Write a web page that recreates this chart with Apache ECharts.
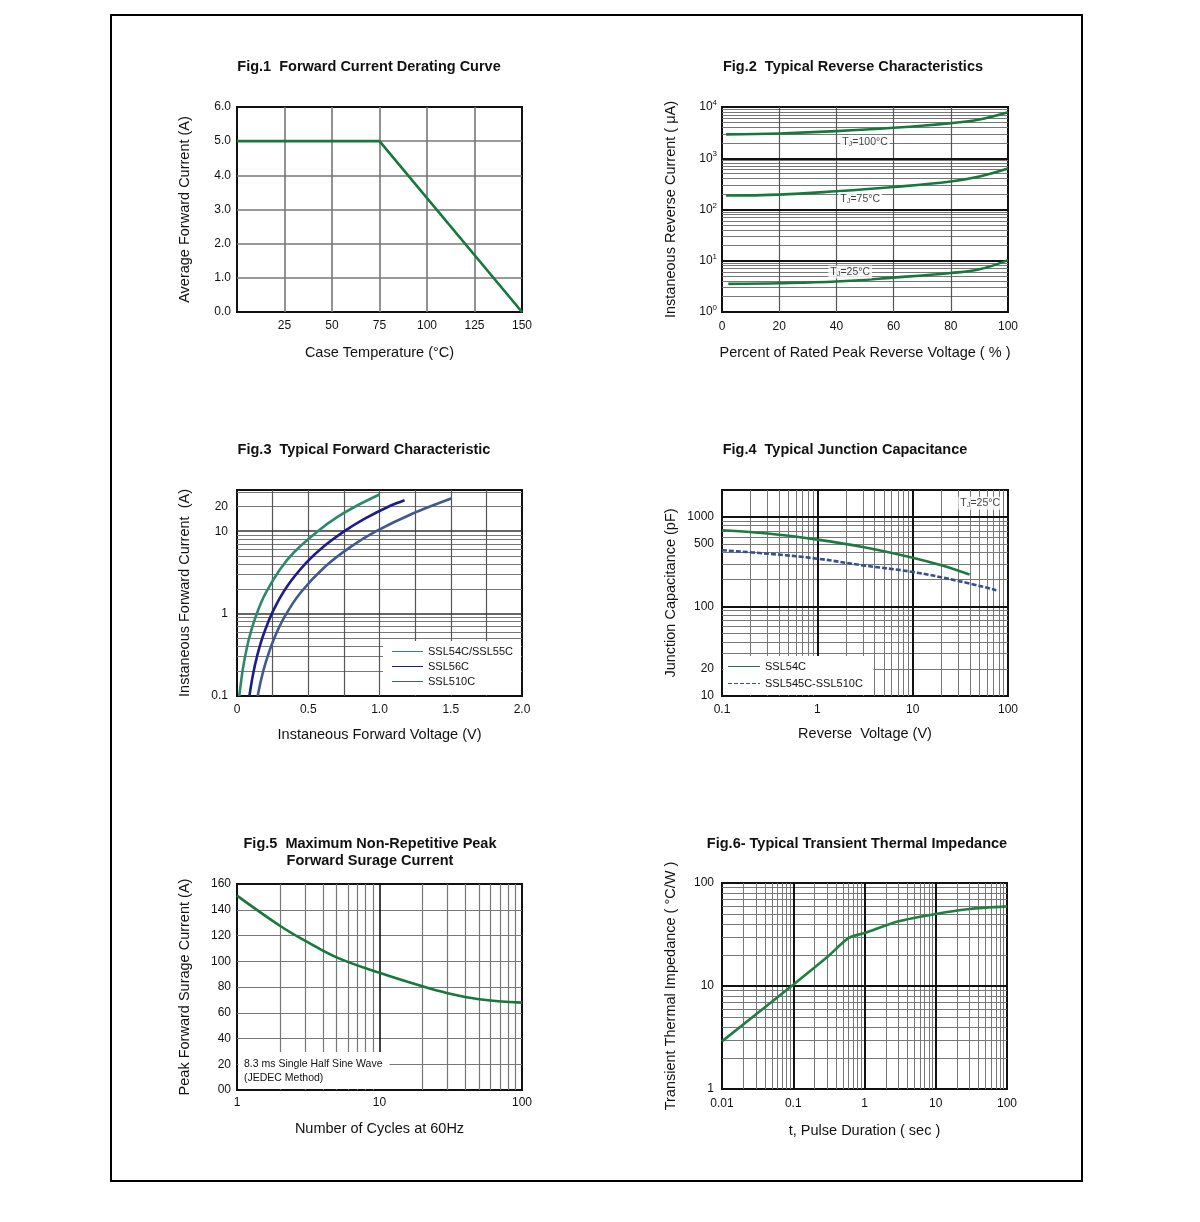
<!DOCTYPE html>
<html><head><meta charset="utf-8">
<script src="https://cdn.jsdelivr.net/npm/echarts/dist/echarts.min.js"></script>
<style>html,body{margin:0;padding:0;background:#fff}#c{width:1200px;height:1222px}</style>
</head><body><div id="c"></div>
<script>
// ---------------- DATA ----------------
// Fig.1 Forward Current Derating Curve
const fig1Temp = [0, 75, 150];
const fig1Current = [5.0, 5.0, 0.0];

// Fig.2 Typical Reverse Characteristics (uA)
const fig2Pct = [1.4, 20, 40, 60, 80, 90, 100];
const fig2I100 = [2920, 3050, 3380, 3930, 4830, 5690, 7890];
const fig2I75 = [187, 195, 227, 275, 353, 441, 631];
const fig2Pct25 = [2.2, 20, 40, 60, 80, 90, 100];
const fig2I25 = [3.54, 3.64, 3.93, 4.69, 5.77, 6.8, 10.3];
const fig2YTicks = [1, 10, 100, 1000, 10000];
const fig2Notes = [[50, 2075, '100°C'], [48.3, 160, '75°C'], [44.8, 6.0, '25°C']];

// Fig.3 Typical Forward Characteristic
const fig3V54 = [0.016, 0.04, 0.07, 0.10, 0.145, 0.20, 0.30, 0.40, 0.567, 0.70, 0.85, 1.0];
const fig3I54 = [0.1, 0.207, 0.39, 0.625, 1.07, 1.76, 3.41, 5.55, 10, 14.7, 20.8, 27.9];
const fig3V56 = [0.087, 0.11, 0.14, 0.18, 0.25, 0.35, 0.485, 0.60, 0.754, 0.90, 1.08, 1.176];
const fig3I56 = [0.1, 0.174, 0.30, 0.52, 1.05, 2.12, 4.12, 6.34, 10, 14.3, 20.5, 23.8];
const fig3V510 = [0.145, 0.17, 0.20, 0.25, 0.333, 0.45, 0.625, 0.80, 0.977, 1.234, 1.503];
const fig3I510 = [0.1, 0.16, 0.25, 0.45, 0.91, 1.83, 3.8, 6.5, 10, 16.4, 24.9];
const fig3YTicks = [0.1, 1, 10, 20];
const fig3Names = ['SSL54C/SSL55C', 'SSL56C', 'SSL510C'];

// Fig.4 Typical Junction Capacitance
const fig4V54 = [0.1, 0.3, 1, 3, 10, 20, 39.5];
const fig4C54 = [710, 652, 558, 462, 351, 288, 227];
const fig4V510 = [0.1, 0.3, 1, 3, 10, 30, 75.4];
const fig4C510 = [425, 389, 342, 288, 243, 193, 152];
const fig4XTicks = [0.1, 1, 10, 100];
const fig4YTicks = [10, 20, 100, 500, 1000];
const fig4Names = ['SSL54C', 'SSL545C-SSL510C'];
const fig4Note = [[51, 1422, '25°C']];

// Fig.5 Maximum Non-Repetitive Peak Forward Surage Current
const fig5Cycles = [1, 2, 3, 5, 10, 20, 30, 50, 100];
const fig5Amps = [151, 127.6, 116, 103, 91, 80.5, 75.2, 70.5, 67.9];
const fig5XTicks = [1, 10, 100];

// Fig.6 Typical Transient Thermal Impedance
const fig6Time = [0.01, 0.1, 0.3, 0.6, 1, 3, 10, 30, 100];
const fig6Z = [2.9, 10.3, 19.1, 29.3, 32.7, 42.5, 50.1, 56, 59.3];
const fig6XTicks = [0.01, 0.1, 1, 10, 100];
const fig6YTicks = [1, 10, 100];

// grid line values
const fig1XGrid = [25, 50, 75, 100, 125];
const fig1YGrid = [1, 2, 3, 4, 5];
const fig2XGrid = [20, 40, 60, 80];
const fig2YMajor = [10, 100, 1000];
const fig2YMinor = [2,3,4,5,6,7,8,9, 20,30,40,50,60,70,80,90, 200,300,400,500,600,700,800,900, 2000,3000,4000,5000,6000,7000,8000,9000];
const fig3XGrid = [0.25, 0.5, 0.75, 1.0, 1.25, 1.5, 1.75];
const fig3YMajor = [1, 10];
const fig3YMinor = [0.2,0.3,0.4,0.5,0.6,0.7,0.8,0.9, 2,3,4,5,6,7,8,9, 20,30];
const fig4XMajor = [1, 10];
const fig4XMinor = [0.2,0.3,0.4,0.5,0.6,0.7,0.8,0.9, 2,3,4,5,6,7,8,9, 20,30,40,50,60,70,80,90];
const fig4YMajor = [100, 1000];
const fig4YMinor = [20,30,40,50,60,70,80,90, 200,300,400,500,600,700,800,900];
const fig5XMajor = [10];
const fig5XMinor = [2,3,4,5,6,7,8,9, 20,30,40,50,60,70,80,90];
const fig5YGrid = [20, 40, 60, 80, 100, 120, 140];
const fig6XMajor = [0.1, 1, 10];
const fig6XMinor = [0.02,0.03,0.04,0.05,0.06,0.07,0.08,0.09, 0.2,0.3,0.4,0.5,0.6,0.7,0.8,0.9, 2,3,4,5,6,7,8,9, 20,30,40,50,60,70,80,90];
const fig6YMajor = [10];
const fig6YMinor = [2,3,4,5,6,7,8,9, 20,30,40,50,60,70,80,90];

// ---------------- HELPERS ----------------
const FONT = '"Liberation Sans", Arial, Helvetica, sans-serif';
const MAJOR = '#111';
const MINOR = '#777';
const zip = (a, b) => a.map((v, i) => [v, b[i]]);
const ml = (key, vals, color, width) => vals.map(v => ({ [key]: v, lineStyle: { color, width, type: 'solid' } }));

function gridSeries(i, parts) {
  let data = [];
  parts.forEach(p => { data = data.concat(ml(p[0], p[1], p[2], p[3])); });
  return {
    type: 'line', xAxisIndex: i, yAxisIndex: i, data: [], z: 1, silent: true,
    markLine: { z: 1, silent: true, symbol: ['none', 'none'], animation: false, label: { show: false },
      emphasis: { disabled: true }, data }
  };
}
function curve(i, name, data, color, extra) {
  return Object.assign({
    type: 'line', name, xAxisIndex: i, yAxisIndex: i, data, symbol: 'none', z: 4,
    lineStyle: { color, width: 2.6 }, itemStyle: { color }, animation: false
  }, extra || {});
}
const labelStyle = { fontSize: 12, color: '#111', fontFamily: FONT };
function axis(i, type, min, max, name, gap, lab, extra) {
  const o = {
    gridIndex: i, type, min, max, name, nameGap: gap, nameLocation: 'middle',
    nameTextStyle: { fontSize: 14.5, color: '#111', fontFamily: FONT },
    axisLine: { show: false }, axisTick: { show: false },
    splitLine: { show: false }, minorSplitLine: { show: false },
    axisLabel: Object.assign({}, labelStyle, lab || {})
  };
  if (type === 'log') o.logBase = 10;
  return Object.assign(o, extra || {});
}
function noteSeries(i, notes, size) {
  return {
    type: 'scatter', xAxisIndex: i, yAxisIndex: i, z: 6, symbolSize: 1, silent: true, animation: false,
    itemStyle: { color: 'rgba(0,0,0,0)' },
    data: notes.map(n => ({ value: [n[0], n[1]], label: { formatter: 'T{s|J}=' + n[2] } })),
    label: { show: true, position: 'inside', backgroundColor: '#fff', padding: [1, 2, 1, 2],
      fontSize: size, color: '#111', fontFamily: FONT,
      rich: { s: { fontSize: size - 3, verticalAlign: 'bottom', fontFamily: FONT, color: '#111' } } }
  };
}
const logFmt = v => String(v);

const gridBox = (l, t, w, h) => ({ left: l, top: t, width: w, height: h, show: true, borderColor: '#111', borderWidth: 2, backgroundColor: '#fff', containLabel: false });

const grids = [
  gridBox(237, 107, 285, 205),
  gridBox(722, 107, 286, 205),
  gridBox(237, 490, 285, 206),
  gridBox(722, 490, 286, 206),
  gridBox(237, 884, 285, 206),
  gridBox(722, 883, 285, 206)
];

const xAxes = [
  axis(0, 'value', 0, 150, 'Case Temperature (°C)', 33, { margin: 8, formatter: v => v === 0 ? '' : v }, { interval: 25 }),
  axis(1, 'value', 0, 100, 'Percent of Rated Peak Reverse Voltage ( % )', 33, { margin: 9 }, { interval: 20 }),
  axis(2, 'value', 0, 2, 'Instaneous Forward Voltage (V)', 31, { margin: 8, formatter: v => v === 0 ? '0' : v.toFixed(1) }, { interval: 0.5 }),
  axis(3, 'log', 0.1, 100, 'Reverse  Voltage (V)', 30, { margin: 8, customValues: fig4XTicks, formatter: logFmt }),
  axis(4, 'log', 1, 100, 'Number of Cycles at 60Hz', 31, { margin: 7, customValues: fig5XTicks, formatter: logFmt }),
  axis(5, 'log', 0.01, 100, 't, Pulse Duration ( sec )', 34, { margin: 9, customValues: fig6XTicks, formatter: logFmt })
];
const yAxes = [
  axis(0, 'value', 0, 6, 'Average Forward Current (A)', 45, { margin: 6, formatter: v => v.toFixed(1) }, { interval: 1 }),
  axis(1, 'log', 1, 10000, 'Instaneous Reverse Current ( μA)', 44, {
    margin: 5, customValues: fig2YTicks,
    formatter: v => '{b|10}{p|' + Math.round(Math.log10(v)) + '}',
    rich: { b: { fontSize: 12, color: '#111', fontFamily: FONT, lineHeight: 16 },
            p: { fontSize: 8, color: '#111', fontFamily: FONT, verticalAlign: 'top', lineHeight: 10 } }
  }),
  axis(2, 'log', 0.1, 31.62, 'Instaneous Forward Current  (A)', 45, { margin: 9, customValues: fig3YTicks, formatter: logFmt }),
  axis(3, 'log', 10, 2000, 'Junction Capacitance (pF)', 44, { margin: 8, customValues: fig4YTicks, formatter: logFmt }),
  axis(4, 'value', 0, 160, 'Peak Forward Surage Current (A)', 45, { margin: 6, formatter: v => v === 0 ? '00' : v }, { interval: 20 }),
  axis(5, 'log', 1, 100, 'Transient Thermal Impedance ( °C/W )', 44, { margin: 8, customValues: fig6YTicks, formatter: logFmt })
];

const C54 = '#2b8a6e', C56 = '#1c1c8c', C510 = '#41598c';
const series = [
  // grids
  gridSeries(0, [['xAxis', fig1XGrid, MINOR, 1.6], ['yAxis', fig1YGrid, MINOR, 1.6]]),
  gridSeries(1, [['yAxis', fig2YMinor, MINOR, 1], ['xAxis', fig2XGrid, '#555', 1.2], ['yAxis', fig2YMajor, MAJOR, 2]]),
  gridSeries(2, [['yAxis', fig3YMinor, MINOR, 1], ['xAxis', fig3XGrid, '#555', 1.2], ['yAxis', fig3YMajor, '#333', 1.6]]),
  gridSeries(3, [['xAxis', fig4XMinor, MINOR, 1], ['yAxis', fig4YMinor, MINOR, 1], ['xAxis', fig4XMajor, MAJOR, 2], ['yAxis', fig4YMajor, MAJOR, 2]]),
  gridSeries(4, [['yAxis', fig5YGrid, MINOR, 1.2], ['xAxis', fig5XMinor, MINOR, 1.2], ['xAxis', fig5XMajor, MAJOR, 1.6]]),
  gridSeries(5, [['xAxis', fig6XMinor, MINOR, 1], ['yAxis', fig6YMinor, MINOR, 1], ['xAxis', fig6XMajor, MAJOR, 2], ['yAxis', fig6YMajor, MAJOR, 2]]),
  // curves
  curve(0, 'Fig1', zip(fig1Temp, fig1Current), '#17783c'),
  curve(1, 'TJ100', zip(fig2Pct, fig2I100), '#17783c', { smooth: 0.4 }),
  curve(1, 'TJ75', zip(fig2Pct, fig2I75), '#17783c', { smooth: 0.4 }),
  curve(1, 'TJ25', zip(fig2Pct25, fig2I25), '#17783c', { smooth: 0.4 }),
  curve(2, fig3Names[0], zip(fig3V54, fig3I54), C54, { smooth: 0.3 }),
  curve(2, fig3Names[1], zip(fig3V56, fig3I56), C56, { smooth: 0.3 }),
  curve(2, fig3Names[2], zip(fig3V510, fig3I510), C510, { smooth: 0.3 }),
  curve(3, fig4Names[0], zip(fig4V54, fig4C54), '#1e7a40', { smooth: 0.4 }),
  curve(3, fig4Names[1], zip(fig4V510, fig4C510), '#34508e', { smooth: 0.4, lineStyle: { color: '#34508e', width: 2.6, type: [5, 2] } }),
  curve(4, 'Fig5', zip(fig5Cycles, fig5Amps), '#17783c', { smooth: 0.4 }),
  curve(5, 'Fig6', zip(fig6Time, fig6Z), '#1f8040', { smooth: 0.25 }),
  noteSeries(1, fig2Notes, 10.5),
  noteSeries(3, fig4Note, 10.5)
];

const SOLID = 'path://M0,0H31V1H0Z';
const DASHED = 'path://M0,0H4V1H0Z M6,0H10V1H6Z M12,0H16V1H12Z M18,0H22V1H18Z M24,0H28V1H24Z M30,0H32V1H30Z';
const legendText = { fontSize: 11, color: '#111', fontFamily: FONT };
const legends = [
  { data: [
      { name: fig3Names[0], icon: SOLID, itemStyle: { color: C54 } },
      { name: fig3Names[1], icon: SOLID, itemStyle: { color: C56 } },
      { name: fig3Names[2], icon: SOLID, itemStyle: { color: C510 } }],
    orient: 'vertical', left: 392, top: 646,
    itemWidth: 31, itemHeight: 2, itemGap: 4, padding: 0, textStyle: legendText, selectedMode: false, z: 10 },
  { data: [
      { name: fig4Names[0], icon: SOLID, itemStyle: { color: '#2a6a58' } },
      { name: fig4Names[1], icon: DASHED, itemStyle: { color: '#34508e' } }],
    orient: 'vertical', left: 728, top: 661,
    itemWidth: 32, itemHeight: 2, itemGap: 6, padding: 0, textStyle: legendText, selectedMode: false, z: 10 }
];

function title(text, x, y) {
  return { type: 'text', x, y, z: 10, style: { text, fill: '#111', font: 'bold 14.5px ' + FONT,
    textAlign: 'center', textVerticalAlign: 'middle', align: 'center', verticalAlign: 'middle' } };
}
function note(text, x, y) {
  return { type: 'text', x, y, z: 10, style: { text, fill: '#111', font: '10.5px ' + FONT,
    textAlign: 'left', textVerticalAlign: 'middle', align: 'left', verticalAlign: 'middle' } };
}

const graphics = [
  { type: 'rect', z: 0, shape: { x: 111, y: 15, width: 971, height: 1166 }, style: { fill: 'none', stroke: '#000', lineWidth: 2 } },
  title('Fig.1  Forward Current Derating Curve', 369, 67),
  title('Fig.2  Typical Reverse Characteristics', 853, 67),
  title('Fig.3  Typical Forward Characteristic', 364, 450),
  title('Fig.4  Typical Junction Capacitance', 845, 450),
  title('Fig.5  Maximum Non-Repetitive Peak', 370, 844),
  title('Forward Surage Current', 370, 861),
  title('Fig.6- Typical Transient Thermal Impedance', 857, 844),
  { type: 'rect', z: 3, shape: { x: 383, y: 641, width: 138, height: 54 }, style: { fill: '#fff' } },
  { type: 'rect', z: 3, shape: { x: 723.5, y: 656, width: 150, height: 39 }, style: { fill: '#fff' } },
  { type: 'rect', z: 3, shape: { x: 238.5, y: 1052, width: 151, height: 37 }, style: { fill: '#fff' } },
  note('8.3 ms Single Half Sine Wave', 244, 1064),
  note('(JEDEC Method)', 244, 1078)
];

const chart = echarts.init(document.getElementById('c'), null, { renderer: 'canvas' });
chart.setOption({
  animation: false,
  backgroundColor: '#fff',
  textStyle: { fontFamily: FONT },
  grid: grids,
  xAxis: xAxes,
  yAxis: yAxes,
  legend: legends,
  series,
  graphic: { elements: graphics }
});
</script></body></html>
